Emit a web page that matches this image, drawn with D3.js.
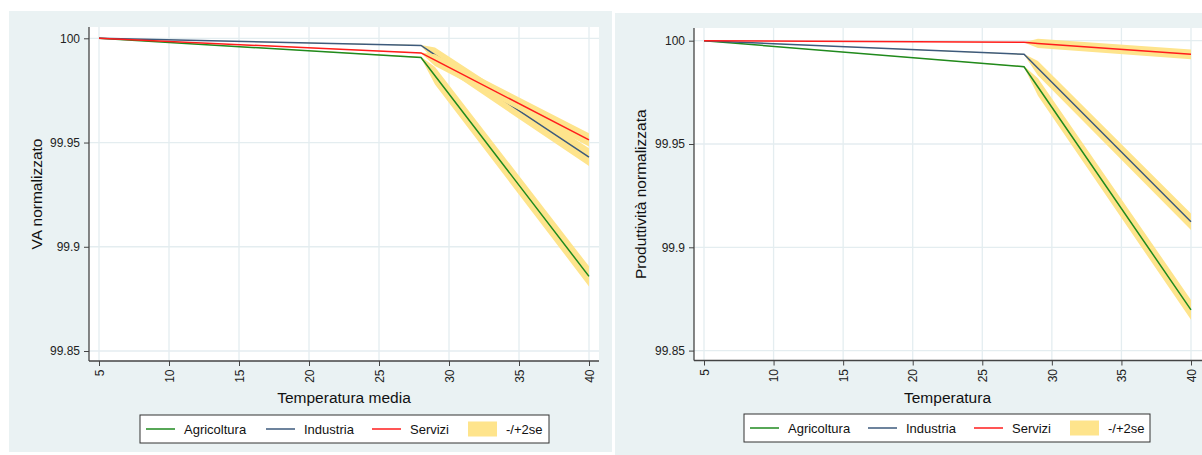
<!DOCTYPE html>
<html lang="it">
<head>
<meta charset="UTF-8">
<title>VA e produttività normalizzati</title>
<script src="https://d3js.org/d3.v7.min.js"></script>
<style>
  body { margin: 0; background: #fff; font-family: "Liberation Sans", Arial, sans-serif; }
  svg { display: block; }
  .tick text { font-size: 12px; fill: #222; }
  .axis-title { font-size: 15.5px; fill: #111; }
  .legend text { font-size: 13px; fill: #111; }
</style>
</head>
<body>
<svg id="chart" width="1202" height="455"></svg>
<script>
// temperature points (knot at 28)
const temps = [5, 28, 29, 40];
const seriesNames = ["Agricoltura", "Industria", "Servizi"];
const colors = ["#1f8a1f", "#3d5a7c", "#ff1c1c"];
const bandColor = "#fee48c";
const xTicks = [5, 10, 15, 20, 25, 30, 35, 40];
const yTicks = [99.85, 99.9, 99.95, 100];

// VA normalizzato
const vaAgri = [100, 99.9908, 99.9820, 99.8858];
const vaInd  = [100, 99.9966, 99.9921, 99.9430];
const vaServ = [100, 99.9930, 99.9895, 99.9513];
// +/- 2se
const vaAgriSe = [0, 0.0003, 0.0042, 0.0048];
const vaIndSe  = [0, 0.0002, 0.0035, 0.0043];
const vaServSe = [0, 0.0002, 0.0028, 0.0032];

// Produttività normalizzata
const prAgri = [100, 99.9874, 99.9776, 99.8697];
const prInd  = [100, 99.9934, 99.9867, 99.9124];
const prServ = [100, 99.9992, 99.9987, 99.9934];
const prAgriSe = [0, 0.0003, 0.0042, 0.0048];
const prIndSe  = [0, 0.0002, 0.0035, 0.0040];
const prServSe = [0, 0.0001, 0.0022, 0.0024];

const svg = d3.select("#chart");

function drawPanel(p) {
  const g = svg.append("g");

  g.append("rect")
    .attr("x", p.bg[0]).attr("y", p.bg[1])
    .attr("width", p.bg[2]).attr("height", p.bg[3])
    .attr("fill", "#eaf2f3");

  g.append("rect")
    .attr("x", p.left).attr("y", p.top)
    .attr("width", p.right - p.left).attr("height", p.bottom - p.top)
    .attr("fill", "#fff");

  const x = d3.scaleLinear().domain([5, 40]).range(p.xRange);
  const y = d3.scaleLinear().domain([99.85, 100]).range(p.yRange);

  // grid
  g.append("g").selectAll("line").data(xTicks).join("line")
    .attr("x1", d => x(d)).attr("x2", d => x(d))
    .attr("y1", p.top).attr("y2", p.bottom)
    .attr("stroke", "#e4edf0").attr("stroke-width", 1.3);
  g.append("g").selectAll("line").data(yTicks).join("line")
    .attr("x1", p.left).attr("x2", p.right)
    .attr("y1", d => y(d)).attr("y2", d => y(d))
    .attr("stroke", "#e4edf0").attr("stroke-width", 1.3);

  const area = d3.area()
    .x(d => x(d.t))
    .y0(d => y(d.v - d.se))
    .y1(d => y(d.v + d.se));
  const line = d3.line()
    .x(d => x(d.t))
    .y(d => y(d.v));

  p.series.forEach((s, i) => {
    const pts = temps.map((t, k) => ({ t: t, v: s.values[k], se: s.se[k] }));
    g.append("path").datum(pts)
      .attr("d", area)
      .attr("fill", bandColor);
    g.append("path").datum(pts)
      .attr("d", line)
      .attr("fill", "none")
      .attr("stroke", colors[i])
      .attr("stroke-width", 1.5);
  });

  // axes
  const xAxis = g.append("g")
    .attr("transform", `translate(0,${p.bottom})`)
    .call(d3.axisBottom(x).tickValues(xTicks).tickSize(5).tickSizeOuter(0));
  xAxis.select(".domain").attr("d", `M${p.left},0H${p.right}`);
  xAxis.selectAll(".tick text")
    .attr("transform", "rotate(-90)")
    .attr("x", -8.5).attr("y", 0).attr("dy", "0.35em")
    .style("text-anchor", "end");

  const yAxis = g.append("g")
    .attr("transform", `translate(${p.left},0)`)
    .call(d3.axisLeft(y).tickValues(yTicks).tickSize(5).tickSizeOuter(0)
      .tickFormat(d3.format("")));
  yAxis.select(".domain").attr("d", `M0,${p.top}V${p.bottom}`);
  yAxis.selectAll(".tick text").attr("x", -9);

  g.selectAll(".domain").attr("stroke", "#444").attr("stroke-width", 1.3);
  g.selectAll(".tick line").attr("stroke", "#444");
  g.selectAll(".tick text").attr("font-family", "Liberation Sans, Arial, sans-serif");

  g.append("text").attr("class", "axis-title")
    .attr("x", (p.xRange[0] + p.xRange[1]) / 2).attr("y", 403)
    .attr("text-anchor", "middle")
    .text(p.xTitle);

  g.append("text").attr("class", "axis-title")
    .attr("transform", `translate(${p.yTitleX},${(p.top + p.bottom) / 2}) rotate(-90)`)
    .attr("text-anchor", "middle")
    .text(p.yTitle);

  // legend
  const lg = g.append("g").attr("class", "legend");
  lg.append("rect")
    .attr("x", p.legend.x).attr("y", p.legend.y)
    .attr("width", p.legend.w).attr("height", 28)
    .attr("fill", "#fff").attr("stroke", "#333").attr("stroke-width", 1);
  const ly = p.legend.y + 14;
  seriesNames.forEach((name, i) => {
    const lx = p.legend.items[i];
    lg.append("line")
      .attr("x1", lx).attr("x2", lx + 29)
      .attr("y1", ly).attr("y2", ly)
      .attr("stroke", colors[i]).attr("stroke-width", 1.5);
    lg.append("text").attr("x", lx + 38).attr("y", ly).attr("dy", "0.35em").text(name);
  });
  const sx = p.legend.items[3];
  lg.append("rect")
    .attr("x", sx).attr("y", ly - 7.5)
    .attr("width", 29).attr("height", 15)
    .attr("fill", bandColor);
  lg.append("text").attr("x", sx + 38).attr("y", ly).attr("dy", "0.35em").text("-/+2se");
}

drawPanel({
  bg: [9, 11, 603, 441],
  left: 89, right: 599, top: 27, bottom: 361,
  xRange: [99, 589], yRange: [351, 38.3],
  xTitle: "Temperatura media", yTitle: "VA normalizzato", yTitleX: 42,
  series: [
    { values: vaAgri, se: vaAgriSe },
    { values: vaInd, se: vaIndSe },
    { values: vaServ, se: vaServSe }
  ],
  legend: { x: 140, y: 415, w: 409, items: [146, 266, 372, 468] }
});

drawPanel({
  bg: [615, 13, 587, 442],
  left: 694, right: 1202, top: 28, bottom: 360.5,
  xRange: [704, 1191], yRange: [350.6, 40.7],
  xTitle: "Temperatura", yTitle: "Produttività normalizzata", yTitleX: 646,
  series: [
    { values: prAgri, se: prAgriSe },
    { values: prInd, se: prIndSe },
    { values: prServ, se: prServSe }
  ],
  legend: { x: 744, y: 414, w: 406, items: [750, 868, 974, 1070] }
});
</script>
</body>
</html>
